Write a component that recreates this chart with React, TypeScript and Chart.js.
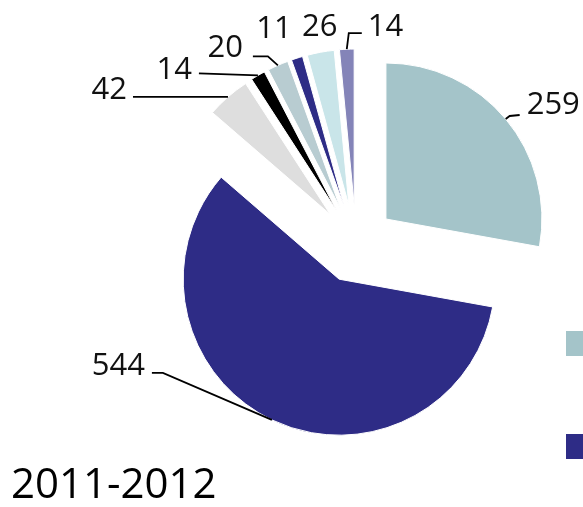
import React, { useEffect, useRef } from "react";
import { Chart, registerables } from "chart.js";

Chart.register(...registerables);

// ---- data ----
const CATEGORIES = ["Cat 1", "Cat 2", "Cat 3", "Cat 4", "Cat 5", "Cat 6", "Cat 7", "Cat 8"];
const VALUES = [259, 544, 42, 14, 20, 11, 26, 14];
const TITLE = "2011-2012";

// ---- style ----
const COLORS = ["#a4c4c9", "#2e2c86", "#dedede", "#000000", "#b8ccd1", "#2e2c86", "#c9e5e9", "#8484b8"];
const EXPLODE = 39;
const RADIUS = 156;
const LABEL_SIZE = 31;
const LABEL_FONT = `${LABEL_SIZE}px "Open Sans"`;
const TEXT_COLOR = "#111111";

// label placement relative to each slice's outer mid-point (style only)
const LABEL_LAYOUT: { dx: number; dy: number; align: CanvasTextAlign; path: number[][] }[] = [
  { dx: 21, dy: -16, align: "left", path: [[4, -3], [14, -4]] },
  { dx: -127, dy: -56, align: "right", path: [[-109, -47], [-120, -47]] },
  { dx: -101, dy: -9, align: "right", path: [[-95, 0]] },
  { dx: -66, dy: -8, align: "right", path: [[-59, -2]] },
  { dx: -35, dy: -19, align: "right", path: [[-10, -9], [-25, -9]] },
  { dx: -23, dy: -31, align: "center", path: [] },
  { dx: -1, dy: -27, align: "center", path: [] },
  { dx: 21, dy: -24, align: "left", path: [[2, -16], [15, -16]] },
];

const explodePlugin = {
  id: "explode",
  beforeDatasetDraw(chart: any, args: any) {
    const ctx = chart.ctx;
    args.meta.data.forEach((arc: any) => {
      const mid = (arc.startAngle + arc.endAngle) / 2;
      ctx.save();
      ctx.translate(Math.cos(mid) * EXPLODE, Math.sin(mid) * EXPLODE);
      arc.draw(ctx);
      ctx.restore();
    });
    return false;
  },
};

const labelPlugin = {
  id: "pieLabels",
  afterDatasetsDraw(chart: any) {
    const ctx = chart.ctx;
    const meta = chart.getDatasetMeta(0);
    const values = chart.data.datasets[0].data;
    meta.data.forEach((arc: any, i: number) => {
      const mid = (arc.startAngle + arc.endAngle) / 2;
      const r = arc.outerRadius + EXPLODE;
      const ax = arc.x + Math.cos(mid) * r;
      const ay = arc.y + Math.sin(mid) * r;
      const lay = LABEL_LAYOUT[i];
      ctx.save();
      if (lay.path.length) {
        ctx.beginPath();
        ctx.moveTo(ax, ay);
        lay.path.forEach((p) => ctx.lineTo(ax + p[0], ay + p[1]));
        ctx.strokeStyle = "#000";
        ctx.lineWidth = 1.8;
        ctx.stroke();
      }
      ctx.font = LABEL_FONT;
      ctx.fillStyle = TEXT_COLOR;
      ctx.textAlign = lay.align;
      ctx.textBaseline = "alphabetic";
      ctx.fillText(String(values[i]), ax + lay.dx, ay + lay.dy + LABEL_SIZE * 0.357);
      ctx.restore();
    });
  },
  afterDraw(chart: any) {
    const ctx = chart.ctx;
    const colors = chart.data.datasets[0].backgroundColor;
    ctx.save();
    // legend boxes (their text lies outside the visible area)
    [0, 1].forEach((i, k) => {
      ctx.fillStyle = colors[i];
      ctx.fillRect(566, 331 + k * 103, 25, 25);
    });
    // title
    ctx.font = '42px "Open Sans"';
    ctx.fillStyle = "#000";
    ctx.textAlign = "left";
    ctx.textBaseline = "alphabetic";
    ctx.fillText(TITLE, 11, 498);
    ctx.restore();
  },
};

export default function App() {
  const ref = useRef<HTMLCanvasElement | null>(null);
  useEffect(() => {
    if (!ref.current) return;
    const chart = new Chart(ref.current, {
      type: "pie",
      data: {
        labels: CATEGORIES,
        datasets: [
          {
            data: VALUES,
            backgroundColor: COLORS,
            borderColor: "#ffffff",
            borderWidth: 1,
          },
        ],
      },
      options: {
        responsive: false,
        animation: false,
        radius: RADIUS,
        layout: { padding: { left: 129, right: 0, top: 0, bottom: 19 } },
        plugins: {
          legend: { display: false },
          tooltip: { enabled: false },
          title: { display: false },
        },
      } as any,
      plugins: [explodePlugin, labelPlugin],
    });
    return () => chart.destroy();
  }, []);
  return (
    <div style={{ position: "fixed", left: 0, top: 0, width: 583, height: 507, overflow: "hidden", background: "#fff" }}>
      <canvas ref={ref} width={583} height={507} style={{ display: "block" }} />
    </div>
  );
}
